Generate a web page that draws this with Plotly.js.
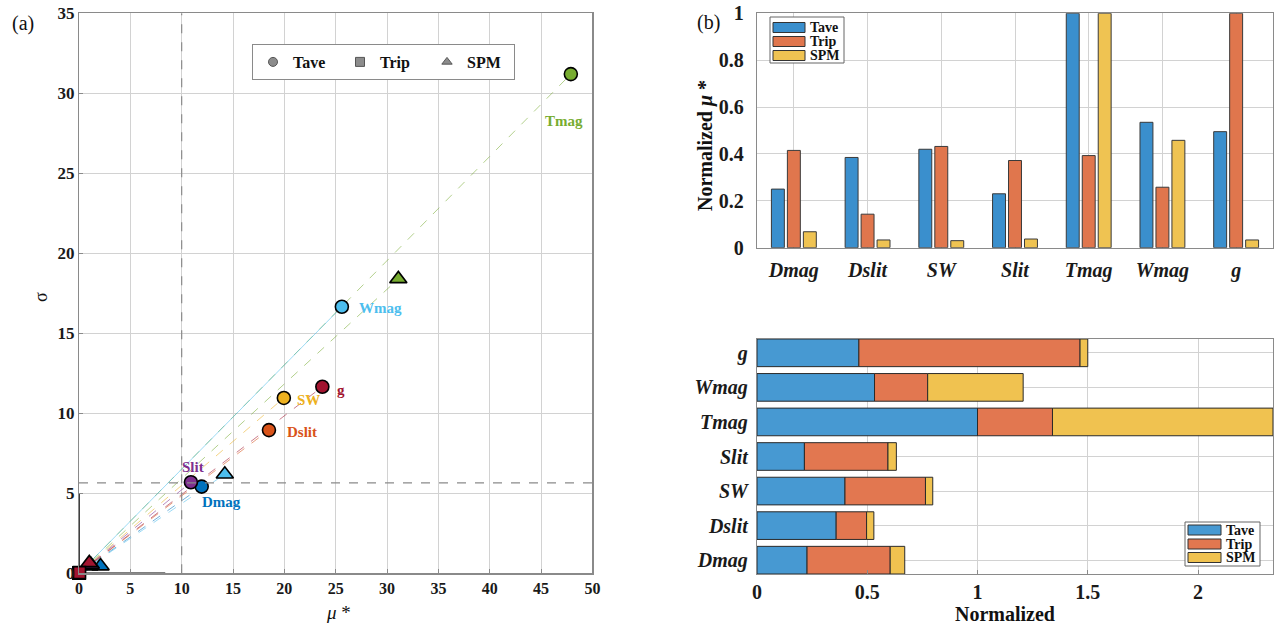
<!DOCTYPE html>
<html>
<head>
<meta charset="utf-8">
<script src="https://cdn.plot.ly/plotly-3.0.1.min.js"></script>
<style>
html,body{margin:0;padding:0;background:#fff;}
#chart{width:1278px;height:629px;}
</style>
</head>
<body>
<div id="chart"></div>
<script>
// ---------- data ----------
const params = ['Dmag', 'Dslit', 'SW', 'Slit', 'Tmag', 'Wmag', 'g'];
const paramColors = ['#0072BD', '#D95319', '#EDB120', '#7E2F8E', '#77AC30', '#4DBEEE', '#A2142F'];

// panel (a): mu* and sigma for each method
const taveMu    = [11.95, 18.5, 19.95, 10.9, 47.9, 25.6, 23.7];
const taveSigma = [5.42, 8.95, 10.96, 5.69, 31.2, 16.66, 11.66];
const tripMu    = [0.02, 0.007, 0.022, 0.019, 0.02, 0.013, 0.05];
const tripSigma = [0.015, 0.006, 0.017, 0.014, 0.016, 0.01, 0.04];
const spmMu     = [2.1, 1.0, 0.95, 1.15, 31.1, 14.2, 1.0];
const spmSigma  = [0.45, 0.45, 0.5, 0.55, 18.4, 6.19, 0.65];
const thresholdMu = 10;
const thresholdSigma = 5.65;

// panel (b) top: normalized mu*
const normMuTave = [0.25, 0.385, 0.42, 0.23, 1.0, 0.535, 0.495];
const normMuTrip = [0.415, 0.143, 0.432, 0.372, 0.393, 0.258, 1.0];
const normMuSPM  = [0.068, 0.033, 0.030, 0.037, 1.0, 0.458, 0.033];

// panel (b) bottom: normalized (stacked)
const normTave = [0.227, 0.359, 0.399, 0.215, 1.0, 0.533, 0.462];
const normTrip = [0.377, 0.138, 0.365, 0.379, 0.340, 0.241, 1.003];
const normSPM  = [0.066, 0.033, 0.033, 0.038, 1.0, 0.433, 0.035];

const methodNames = ['Tave', 'Trip', 'SPM'];

// ---------- styles ----------
const SERIF = 'Liberation Serif, Times New Roman, serif';
const barColors = ['#3A8FCD', '#E0764D', '#EFC352'];
const barColorsH = ['#4799D2', '#E27750', '#F0C250'];
// label offsets (px) relative to the Tave marker
const labelShift = [[20, -15], [33, -2], [25, -2], [2, 15], [-7, -47], [39, -1], [19, -3]];

const W = 1278, H = 629;
const px = v => v / W;
const py = v => 1 - v / H;

const traces = [];

// connecting lines
params.forEach((p, i) => {
  traces.push({
    x: [tripMu[i], taveMu[i]], y: [tripSigma[i], taveSigma[i]],
    mode: 'lines', xaxis: 'x', yaxis: 'y', showlegend: false, hoverinfo: 'skip',
    line: {color: paramColors[i], width: 1, dash: p === 'Wmag' ? 'solid' : 'dash'},
    opacity: 0.55
  });
  traces.push({
    x: [tripMu[i], spmMu[i]], y: [tripSigma[i], spmSigma[i]],
    mode: 'lines', xaxis: 'x', yaxis: 'y', showlegend: false, hoverinfo: 'skip',
    line: {color: paramColors[i], width: 1, dash: 'dash'},
    opacity: 0.55
  });
});

// markers
params.forEach((p, i) => {
  traces.push({
    x: [spmMu[i]], y: [spmSigma[i]], mode: 'markers', xaxis: 'x', yaxis: 'y',
    name: p + ' SPM', showlegend: false, cliponaxis: false,
    marker: {symbol: 'triangle-up', size: 15, color: paramColors[i], line: {color: '#000', width: 1.6}}
  });
  traces.push({
    x: [tripMu[i]], y: [tripSigma[i]], mode: 'markers', xaxis: 'x', yaxis: 'y',
    name: p + ' Trip', showlegend: false, cliponaxis: false,
    marker: {symbol: 'square', size: 12, color: paramColors[i], line: {color: '#000', width: 1.6}}
  });
  traces.push({
    x: [taveMu[i]], y: [taveSigma[i]], mode: 'markers', xaxis: 'x', yaxis: 'y',
    name: p + ' Tave', showlegend: false, cliponaxis: false,
    marker: {symbol: 'circle', size: 13, color: paramColors[i], line: {color: '#000', width: 1.6}}
  });
});

// legend entries for panel (a)
const legSymbols = ['circle', 'square', 'triangle-up'];
methodNames.forEach((m, k) => {
  traces.push({
    x: [null], y: [null], mode: 'markers', xaxis: 'x', yaxis: 'y', name: m,
    legend: 'legend', showlegend: true,
    marker: {symbol: legSymbols[k], size: 9, color: '#8c8c8c', line: {color: '#555', width: 1}}
  });
});

// panel (b) top grouped bars
[normMuTave, normMuTrip, normMuSPM].forEach((vals, k) => {
  traces.push({
    type: 'bar', x: params, y: vals, name: methodNames[k],
    xaxis: 'x2', yaxis: 'y2', showlegend: false,
    marker: {color: barColors[k], line: {color: '#3a3a3a', width: 1}}
  });
});

// panel (b) bottom stacked bars
const stackVals = [normTave, normTrip, normSPM];
stackVals.forEach((vals, k) => {
  const base = params.map((_, i) => stackVals.slice(0, k).reduce((s, arr) => s + arr[i], 0));
  traces.push({
    type: 'bar', orientation: 'h', y: params, x: vals, base: base, name: methodNames[k],
    xaxis: 'x3', yaxis: 'y3', showlegend: false, offsetgroup: 'stack',
    width: 0.8, offset: -0.4,
    marker: {color: barColorsH[k], line: {color: '#2a2a2a', width: 1}}
  });
});

// annotations
const annotations = [];
params.forEach((p, i) => {
  annotations.push({
    x: taveMu[i], y: taveSigma[i], xref: 'x', yref: 'y', text: '<b>' + p + '</b>',
    xanchor: 'center', yanchor: 'middle',
    showarrow: false, xshift: labelShift[i][0], yshift: labelShift[i][1],
    font: {family: SERIF, size: 15, color: paramColors[i]}
  });
});
const paperText = (x, y, text, size, extra) => Object.assign({
  xref: 'paper', yref: 'paper', x: px(x), y: py(y), text: text, showarrow: false,
  xanchor: 'center', yanchor: 'middle', font: {family: SERIF, size: size, color: '#111'}
}, extra || {});
annotations.push(
  paperText(23, 24, '(a)', 20),
  paperText(708, 23, '(b)', 20),
  paperText(41, 297, 'σ', 18, {textangle: -90}),
  paperText(338, 612, '<i>μ</i> *', 19),
  paperText(705, 146, '<b>Normalized <i>μ</i> *</b>', 20, {textangle: -90}),
  paperText(1005, 614, '<b>Normalized</b>', 20)
);

// shapes
const shapes = [
  {type: 'line', xref: 'x', yref: 'y', x0: thresholdMu, x1: thresholdMu, y0: 0, y1: 35,
   line: {color: '#8a8a8a', width: 1.2, dash: 'dash'}},
  {type: 'line', xref: 'x', yref: 'y', x0: 0, x1: 50, y0: thresholdSigma, y1: thresholdSigma,
   line: {color: '#8a8a8a', width: 1.2, dash: 'dash'}},
  {type: 'line', xref: 'x', yref: 'y', x0: 0, x1: 0, y0: 0, y1: 5,
   line: {color: '#000', width: 1.5}, layer: 'below'},
  {type: 'line', xref: 'x', yref: 'y', x0: 0, x1: 8.4, y0: 0, y1: 0,
   line: {color: '#000', width: 1.5}, layer: 'below'}
];

// manual MATLAB-style legends for panel (b)
function boxLegend(box, rectX, rowsY, textX, rectH, fontSize, colors) {
  shapes.push({type: 'rect', xref: 'paper', yref: 'paper', x0: px(box[0]), x1: px(box[2]),
    y0: py(box[3]), y1: py(box[1]), fillcolor: '#fff', line: {color: '#666', width: 1}});
  methodNames.forEach((m, k) => {
    shapes.push({type: 'rect', xref: 'paper', yref: 'paper', x0: px(rectX[0]), x1: px(rectX[1]),
      y0: py(rowsY[k] + rectH / 2), y1: py(rowsY[k] - rectH / 2), fillcolor: colors[k],
      line: {color: '#333', width: 1}});
    annotations.push({xref: 'paper', yref: 'paper', x: px(textX), y: py(rowsY[k]), text: '<b>' + m + '</b>',
      showarrow: false, xanchor: 'left', yanchor: 'middle',
      font: {family: SERIF, size: fontSize, color: '#111'}});
  });
}
boxLegend([770, 17, 844, 63], [773, 805], [27.5, 41.5, 55.5], 808, 10, 14, barColors);
boxLegend([1185, 522, 1260, 566], [1188, 1221], [530, 544, 557.5], 1224, 10, 14, barColorsH);

const gridC = '#d2d2d2';
const lineC = '#8a8a8a';
const tickBold = (size, italic) => ({family: SERIF, size: size, color: '#1a1a1a', weight: 700, style: italic ? 'italic' : 'normal'});
const common = {
  showline: true, mirror: true, linecolor: lineC, linewidth: 1.2,
  showgrid: true, gridcolor: gridC, gridwidth: 1, zeroline: false,
  ticks: 'inside', ticklen: 4, tickcolor: lineC
};

const layout = {
  width: W, height: H,
  margin: {l: 0, r: 0, t: 0, b: 0},
  paper_bgcolor: '#fff', plot_bgcolor: '#fff',
  barmode: 'group', bargap: 0.35, bargroupgap: 0.19,
  showlegend: true,
  xaxis: Object.assign({}, common, {domain: [px(79), px(592.4)], anchor: 'y', range: [0, 50], dtick: 5, tick0: 0,
    tickfont: tickBold(16)}),
  yaxis: Object.assign({}, common, {domain: [py(573.3), py(13.3)], anchor: 'x', range: [0, 35], dtick: 5, tick0: 0,
    tickfont: tickBold(17)}),
  xaxis2: Object.assign({}, common, {domain: [px(757), px(1273)], anchor: 'y2', type: 'category',
    range: [-0.5, 6.5], tickfont: tickBold(20, true), ticks: 'outside', ticklen: 4, tickcolor: 'rgba(0,0,0,0)'}),
  yaxis2: Object.assign({}, common, {domain: [py(247.7), py(13.3)], anchor: 'x2', range: [0, 1], dtick: 0.2,
    tickfont: tickBold(20), ticks: 'outside', ticklen: 8, tickcolor: 'rgba(0,0,0,0)'}),
  xaxis3: Object.assign({}, common, {domain: [px(757), px(1273)], anchor: 'y3', range: [0, 2.34], dtick: 0.5,
    tickfont: tickBold(20)}),
  yaxis3: Object.assign({}, common, {domain: [py(574), py(339)], anchor: 'x3', type: 'category',
    range: [-0.4, 6.4], tickfont: tickBold(20, true), ticks: 'outside', ticklen: 4, tickcolor: 'rgba(0,0,0,0)'}),
  legend: {orientation: 'h', x: px(252), y: py(44), xanchor: 'left', yanchor: 'top',
    bgcolor: '#fff', bordercolor: '#8a8a8a', borderwidth: 1,
    font: {family: SERIF, size: 16, color: '#111', weight: 700}, entrywidth: 42, itemwidth: 30},
  annotations: annotations,
  shapes: shapes
};

Plotly.newPlot('chart', traces, layout, {staticPlot: true, displayModeBar: false});
</script>
</body>
</html>
